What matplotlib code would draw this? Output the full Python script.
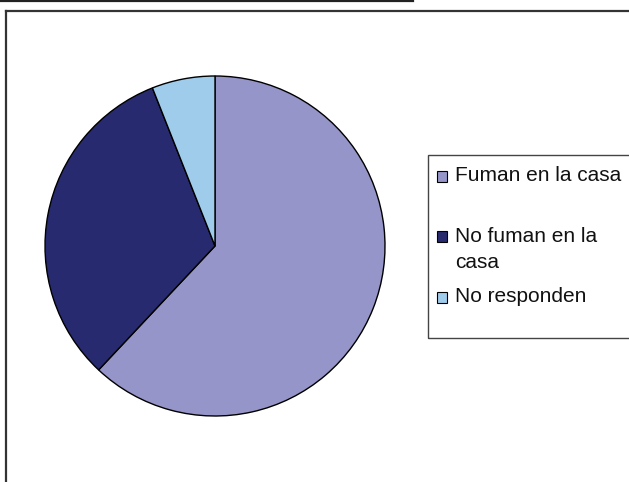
import matplotlib
matplotlib.use("Agg")
import matplotlib.pyplot as plt
from matplotlib.patches import Rectangle
from matplotlib.lines import Line2D

labels = ["Fuman en la casa", "No fuman en la\ncasa", "No responden"]
values = [62, 32, 6]
colors = ["#9595C9", "#272A6F", "#9FCCEB"]

W, H = 629, 482
fig = plt.figure(figsize=(W / 100, H / 100), dpi=100)

def fx(x):
    return x / W

def fy(y):
    return 1 - y / H

# outer frame lines
fig.add_artist(Line2D([fx(0), fx(413)], [fy(1), fy(1)], color="#222222", lw=1.6))
fig.add_artist(Line2D([fx(6), fx(629)], [fy(10.5), fy(10.5)], color="#333333", lw=1.6))
fig.add_artist(Line2D([fx(6), fx(6)], [fy(10.5), fy(482)], color="#333333", lw=1.6))

# pie
cx, cy, r = 215, 246, 170
ax = fig.add_axes([fx(cx - r), fy(cy + r), 2 * r / W, 2 * r / H])
ax.pie(values, colors=colors, startangle=90, counterclock=False,
       wedgeprops=dict(edgecolor="black", linewidth=1.0), radius=1)
ax.set_xlim(-1, 1)
ax.set_ylim(-1, 1)
ax.set_aspect("auto")
ax.axis("off")

# legend box
fig.add_artist(Rectangle((fx(428), fy(338)), fx(640) - fx(428), fy(155) - fy(338),
                         transform=fig.transFigure, fill=False,
                         edgecolor="#444444", lw=1.0))
baselines = [181, 242, 302]
for lab, col, y in zip(labels, colors, baselines):
    box_top = y - 10 if "\n" not in lab else y - 11
    fig.add_artist(Rectangle((fx(436.5), fy(box_top + 10.5)), 10.5 / W, 10.5 / H,
                             transform=fig.transFigure, facecolor=col,
                             edgecolor="black", lw=0.8))
    t = fig.text(fx(455), fy(y), lab.split("\n")[0], ha="left", va="baseline",
                 fontsize=15, family="Liberation Sans", color="#111111")
    if "\n" in lab:
        fig.text(fx(455), fy(y + 26), lab.split("\n")[1], ha="left", va="baseline",
                 fontsize=15, family="Liberation Sans", color="#111111")

fig.savefig("out.png", dpi=100)
